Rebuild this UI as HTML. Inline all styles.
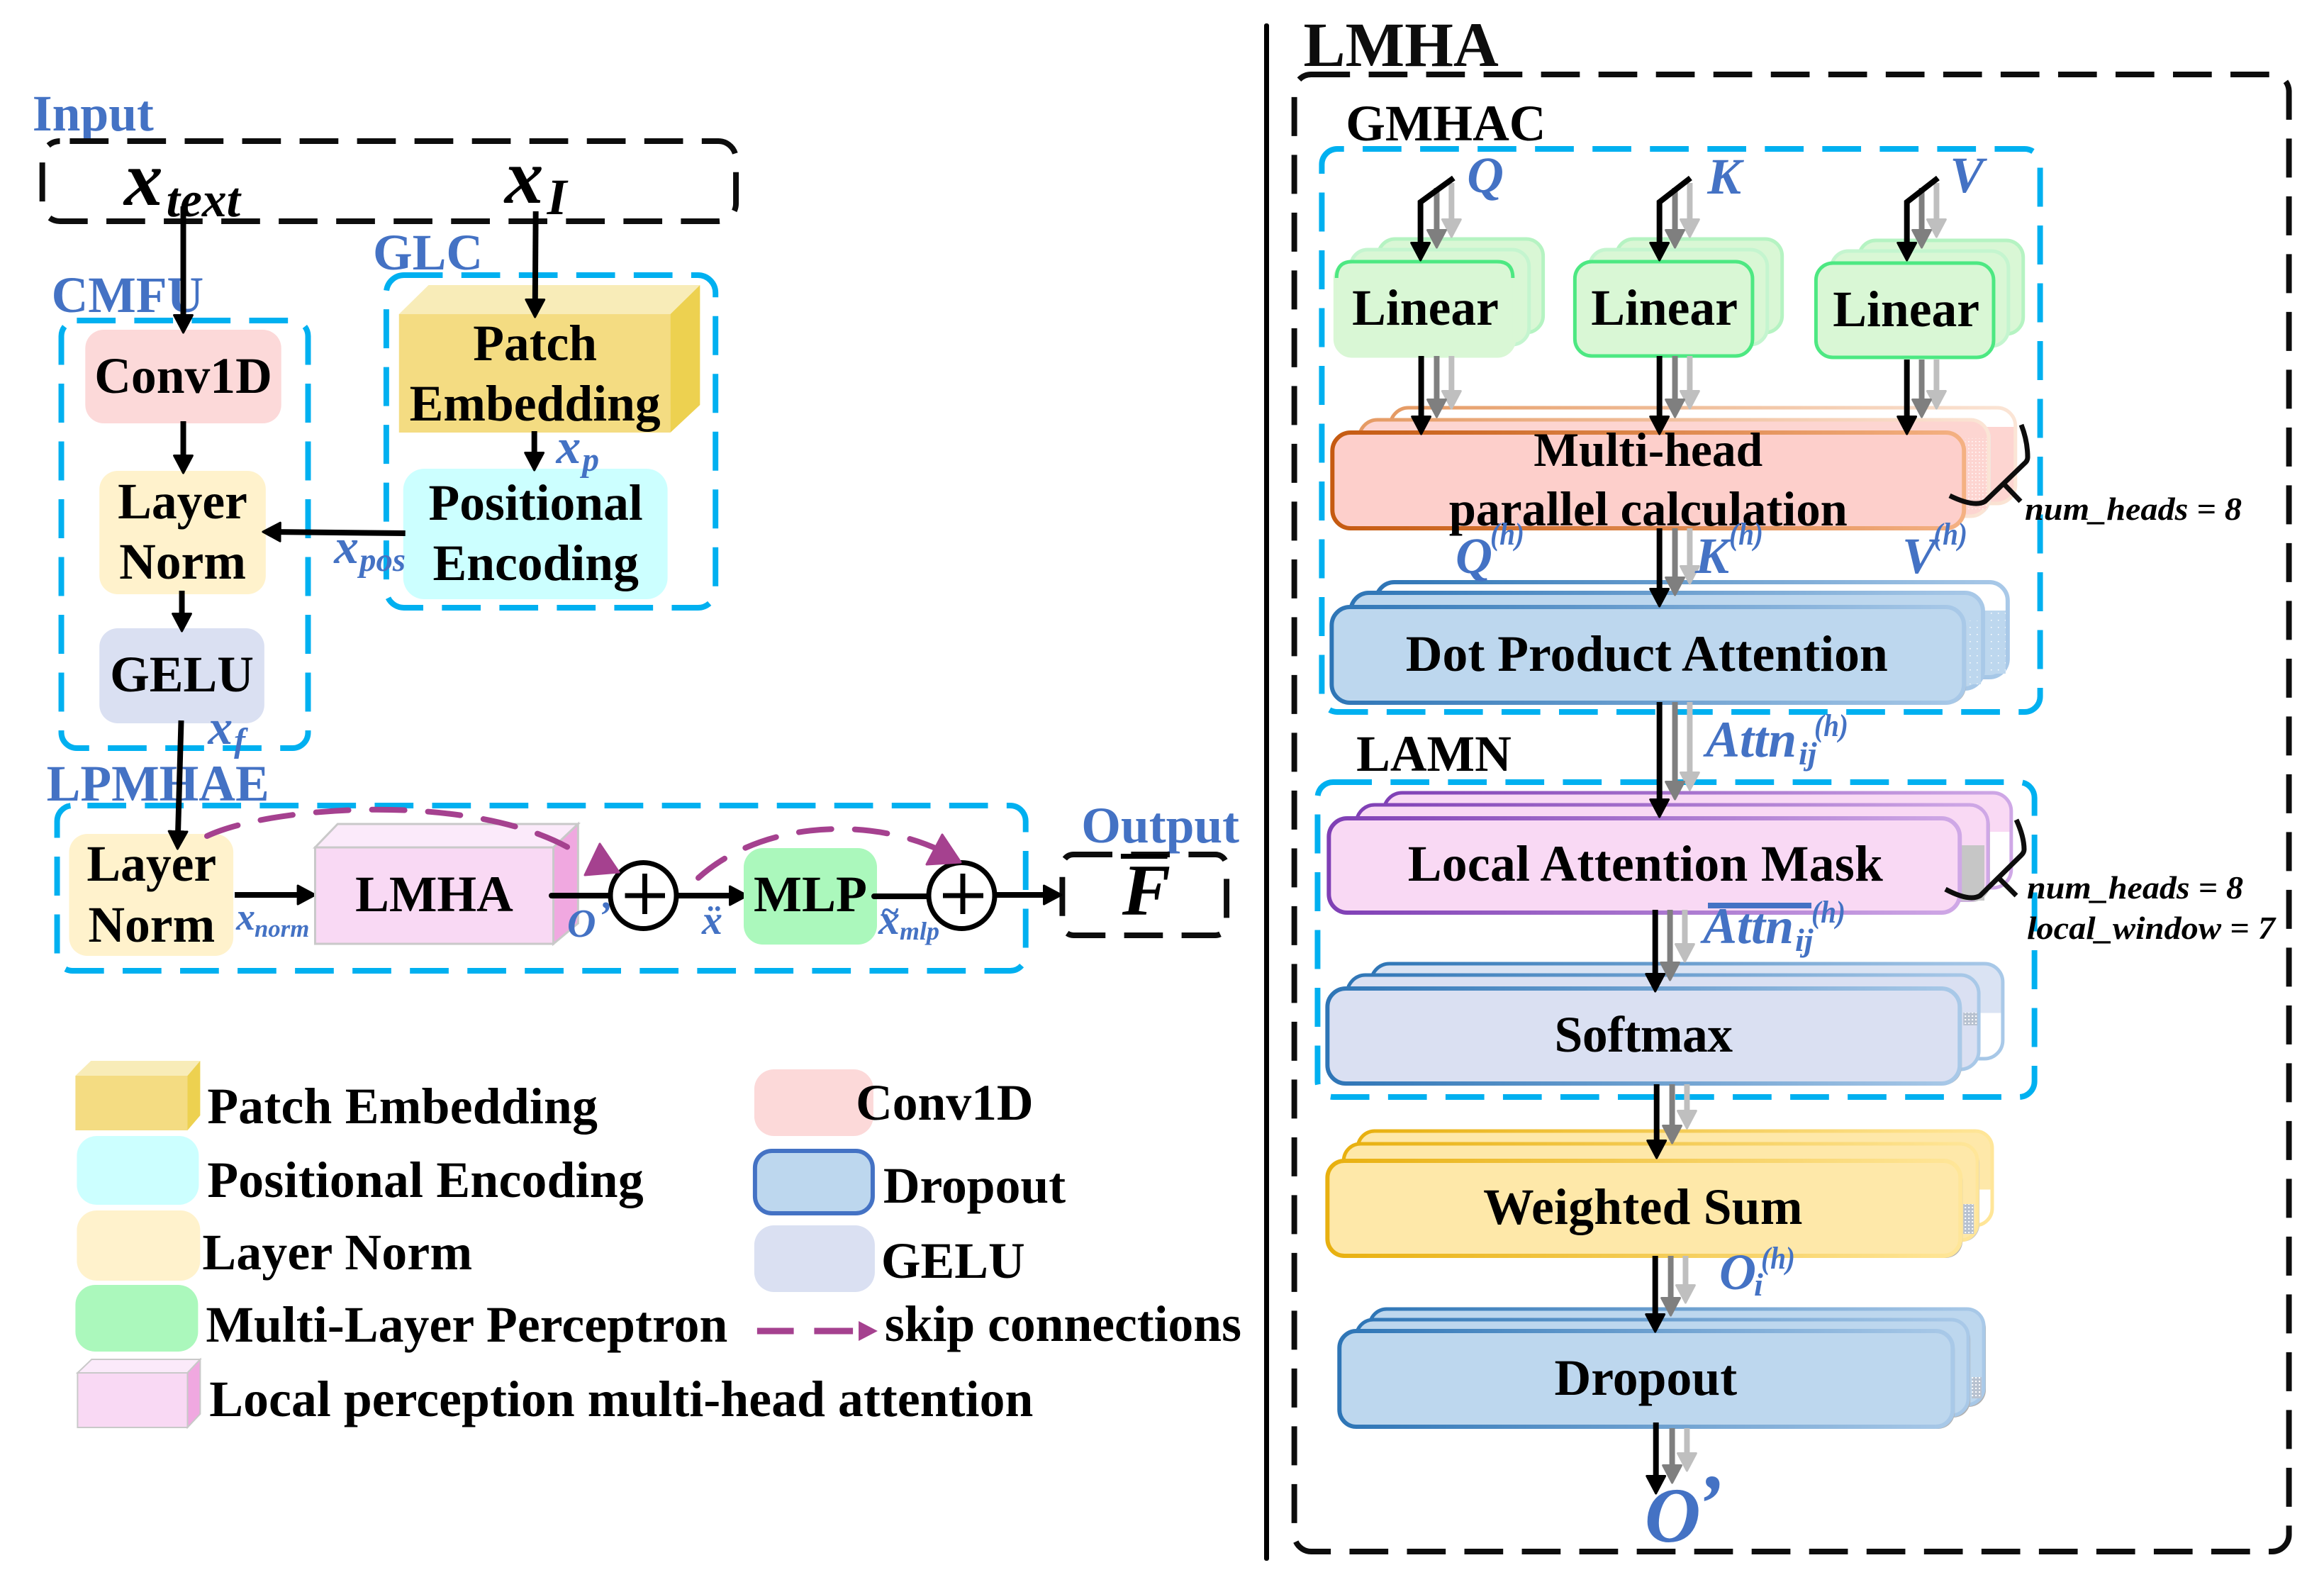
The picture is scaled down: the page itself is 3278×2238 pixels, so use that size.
<!DOCTYPE html>
<html><head><meta charset="utf-8"><style>
html,body{margin:0;padding:0;background:#fff}
svg{display:block}
text{font-family:"Liberation Serif",serif;font-weight:bold;fill:#000;font-size:72px}
.b{fill:#4472c4}
.i{font-style:italic}
.box{fill:none;stroke:#00b0f0;stroke-width:8;stroke-dasharray:55 26.5}
.blk{fill:none;stroke:#0d0d0d;stroke-width:8;stroke-dasharray:55 26.5}
.a{stroke:#000;stroke-width:8;fill:none;marker-end:url(#mk)}
.g{stroke:#7f7f7f;stroke-width:8;fill:none;marker-end:url(#mg)}
.l{stroke:#bfbfbf;stroke-width:8;fill:none;marker-end:url(#ml)}
.ln{stroke:#000;stroke-width:8;fill:none;stroke-linecap:round}
.sk{stroke:#a5418f;stroke-width:8;fill:none;stroke-dasharray:46 33;stroke-linecap:round}
.br{stroke:#0d0d0d;stroke-width:7;fill:none;stroke-linejoin:round}
.h{font-size:44px}
.s{fill:#b0b0b0}
.w1{letter-spacing:.27px}
.w2{letter-spacing:.12px}
</style></head><body>
<svg xmlns="http://www.w3.org/2000/svg" width="3278" height="2238" viewBox="0 0 3278 2238">
<defs>
<marker id="mk" markerUnits="userSpaceOnUse" markerWidth="32" markerHeight="32" refX="20" refY="15" orient="auto"><path d="M1.5 2L26 15L1.5 28Z" fill="#000" stroke="#000" stroke-width="3" stroke-linejoin="round"/></marker>
<marker id="mg" markerUnits="userSpaceOnUse" markerWidth="32" markerHeight="32" refX="20" refY="15" orient="auto"><path d="M1.5 2L26 15L1.5 28Z" fill="#7f7f7f" stroke="#7f7f7f" stroke-width="3" stroke-linejoin="round"/></marker>
<marker id="ml" markerUnits="userSpaceOnUse" markerWidth="32" markerHeight="32" refX="20" refY="15" orient="auto"><path d="M1.5 2L26 15L1.5 28Z" fill="#bfbfbf" stroke="#bfbfbf" stroke-width="3" stroke-linejoin="round"/></marker>
<linearGradient id="so"><stop offset="0" stop-color="#c55a11"/><stop offset="1" stop-color="#f4b183"/></linearGradient>
<linearGradient id="so2"><stop offset="0" stop-color="#e59a63"/><stop offset="1" stop-color="#fbe5d6"/></linearGradient>
<linearGradient id="sb"><stop offset="0" stop-color="#2e75b6"/><stop offset="1" stop-color="#a9c9e8"/></linearGradient>
<linearGradient id="sp"><stop offset="0" stop-color="#7f3fb5"/><stop offset="1" stop-color="#cfa8e6"/></linearGradient>
<linearGradient id="sy"><stop offset="0" stop-color="#e8b00f"/><stop offset="1" stop-color="#ffe699"/></linearGradient>
<linearGradient id="fmb" x2="0" y2="1"><stop offset=".2" stop-color="#fff"/><stop offset=".2" stop-color="#fdd5d1"/></linearGradient>
<linearGradient id="fdb" x2="0" y2="1"><stop offset=".3" stop-color="#fff"/><stop offset=".3" stop-color="#bdd7ee"/></linearGradient>
<linearGradient id="fpb" x2="0" y2="1"><stop offset=".41" stop-color="#f9d9f4"/><stop offset=".41" stop-color="#fff"/></linearGradient>
<linearGradient id="fsb" x2="0" y2="1"><stop offset=".52" stop-color="#dae3f3"/><stop offset=".52" stop-color="#fff"/></linearGradient>
<linearGradient id="fyb" x2="0" y2="1"><stop offset=".62" stop-color="#fee8a9"/><stop offset=".62" stop-color="#fff"/></linearGradient>
<pattern id="dots" width="10" height="10" patternUnits="userSpaceOnUse"><rect width="10" height="10" fill="#bdd7ee"/><rect x="4" y="4" width="1.5" height="1.5" fill="#fff"/></pattern>
<pattern id="dotp" width="5" height="5" patternUnits="userSpaceOnUse"><rect width="5" height="5" fill="#fdd5d1"/><rect x="2" y="2" width="1.5" height="1.5" fill="#fff"/></pattern>
<pattern id="dotg" width="5" height="5" patternUnits="userSpaceOnUse"><rect width="5" height="5" fill="#b8c2d0"/><rect x="2" y="2" width="2" height="2" fill="#fff"/></pattern>
</defs>

<!-- Divider -->
<rect x="1783" y="33" width="7" height="2168" rx="3" fill="#000"/>

<!-- LEFT -->
<g transform="scale(.9943 1)">
<text class="b" x="46" y="184">Input</text>
<rect class="blk" x="60" y="199" width="984" height="113" rx="25" stroke-dashoffset="-14"/>
<text class="b" x="73" y="440">CMFU</text>
<rect class="box" x="87" y="452" width="350" height="603" rx="22"/>
<text class="b" x="529" y="380">GLC</text>
<rect class="box" x="548" y="388" width="467" height="469" rx="25"/>
<text class="b" x="66" y="1129">LPMHAE</text>
<rect class="box" x="81" y="1136" width="1374" height="233" rx="22" stroke-dashoffset="-21"/>

<rect x="121" y="465" width="278" height="132" rx="26" fill="#fcd9d9"/>
<text x="260" y="554" text-anchor="middle">Conv1D</text>
<rect x="141" y="664" width="236" height="174" rx="26" fill="#fff2cc"/>
<text x="259" y="731" text-anchor="middle">Layer</text>
<text x="259" y="816" text-anchor="middle">Norm</text>
<rect x="141" y="886" width="234" height="134" rx="26" fill="#dae0f2"/>
<text x="258" y="975" text-anchor="middle">GELU</text>

<polygon points="566,443 608,402 993,402 951,443" fill="#f8ecb8"/>
<polygon points="951,443 993,402 993,571 951,610" fill="#edd150"/>
<rect x="566" y="443" width="385" height="167" fill="#f4dc82"/>
<text x="759" y="508" text-anchor="middle">Patch</text>
<text x="759" y="593" text-anchor="middle">Embedding</text>
<rect x="572" y="661" width="375" height="184" rx="30" fill="#ccffff"/>
<text x="760" y="733" text-anchor="middle">Positional</text>
<text x="760" y="818" text-anchor="middle">Encoding</text>

<text class="i" x="176" y="289" style="font-size:110px">x</text>
<text class="i" x="236" y="305" style="font-size:70px">text</text>
<text class="i" x="716" y="286" style="font-size:110px">x</text>
<text class="i" x="776" y="302" style="font-size:72px">I</text>

<path class="a" d="M260 291V463"/>
<path class="a" d="M760 298L759 441"/>
<path class="a" d="M260 594V661"/>
<path class="a" d="M258 833V884"/>
<path class="a" d="M758 608V657"/>
<path class="a" d="M575 752L379 750"/>

<text class="b i" x="789" y="653" style="font-size:70px">x</text>
<text class="b i" x="826" y="664" style="font-size:48px">p</text>
<text class="b i" x="474" y="794" style="font-size:70px">x</text>
<text class="b i" x="510" y="805" style="font-size:47px">pos</text>
<text class="b i" x="295" y="1049" style="font-size:70px">x</text>
<text class="b i" x="332" y="1060" style="font-size:48px">f</text>

<rect x="98" y="1176" width="233" height="172" rx="26" fill="#fff2cc"/>
<text x="215" y="1242" text-anchor="middle">Layer</text>
<text x="215" y="1328" text-anchor="middle">Norm</text>
<path class="a" d="M257 1016L252 1191"/>
<path class="a" d="M333 1262H441"/>
<text class="b i" x="335" y="1311" style="font-size:54px">x</text>
<text class="b i" x="361" y="1321" style="font-size:35px">norm</text>

<polygon points="447,1195 479,1162 820,1162 785,1195" fill="#fbeafa" stroke="#c9c9c9" stroke-width="3"/>
<polygon points="785,1195 820,1162 820,1302 785,1331" fill="#f0a8e0" stroke="#c9c9c9" stroke-width="3"/>
<rect x="447" y="1195" width="338" height="136" fill="#f9d9f4" stroke="#c9c9c9" stroke-width="3"/>
<text x="616" y="1285" text-anchor="middle">LMHA</text>

<text class="b" x="1534" y="1188">Output</text>
<rect class="blk" x="1507" y="1205" width="233" height="114" rx="16"/>
<text class="i" x="1592" y="1290" style="font-size:103px">F</text>
<rect x="1590" y="1204" width="66" height="7" fill="#000"/>

<!-- Legend -->
<polygon points="107,1517 129,1496 284,1496 266,1517" fill="#f8ecb8"/>
<polygon points="266,1517 284,1496 284,1573 266,1594" fill="#edd150"/>
<rect x="107" y="1517" width="159" height="77" fill="#f4dc82"/>
<text class="w1" x="294" y="1584">Patch Embedding</text>
<rect x="109" y="1602" width="173" height="97" rx="28" fill="#ccffff"/>
<text class="w1" x="294" y="1688">Positional Encoding</text>
<rect x="109" y="1707" width="175" height="99" rx="28" fill="#fff2cc"/>
<text class="w1" x="287" y="1790">Layer Norm</text>
<rect x="107" y="1812" width="174" height="94" rx="28" fill="#abf8bc"/>
<text class="w2" x="292" y="1892">Multi-Layer Perceptron</text>
<polygon points="110,1936 130,1917 284,1917 266,1936" fill="#fbeafa" stroke="#c9c9c9" stroke-width="2"/>
<polygon points="266,1936 284,1917 284,1994 266,2013" fill="#f0a8e0" stroke="#c9c9c9" stroke-width="2"/>
<rect x="110" y="1936" width="156" height="77" fill="#f9d9f4" stroke="#c9c9c9" stroke-width="2"/>
<text class="w2" x="297" y="1997">Local perception multi-head attention</text>
<rect x="1070" y="1508" width="169" height="94" rx="28" fill="#fcd9d9"/>
<text x="1214" y="1579">Conv1D</text>
<rect x="1071" y="1623" width="167" height="88" rx="24" fill="#bdd7ee" stroke="#4472c4" stroke-width="6"/>
<text x="1253" y="1696">Dropout</text>
<rect x="1070" y="1728" width="171" height="94" rx="28" fill="#dae0f2"/>
<text x="1250" y="1802">GELU</text>
<path d="M1074 1877H1126M1155 1877H1210" stroke="#a5418f" stroke-width="9"/>
<polygon points="1218,1863 1245,1877 1218,1891" fill="#a5418f"/>
<text x="1255" y="1891">skip connections</text>
</g>

<!-- row items in true coordinates -->
<path class="ln" d="M778 1263H860"/>
<text class="b i" x="800" y="1321" style="font-size:56px">O</text>
<text class="b i" x="843" y="1310" style="font-size:56px">’</text>
<circle cx="907.5" cy="1263" r="46.5" fill="#fff" stroke="#000" stroke-width="7"/>
<path d="M881.5 1263H938M909.5 1232V1289" stroke="#000" stroke-width="7"/>
<path class="a" d="M956 1263H1048"/>
<text class="b i" x="990" y="1317" style="font-size:58px">ẍ</text>
<rect x="1049" y="1196" width="188" height="136" rx="27" fill="#abf8bc"/>
<text x="1143" y="1285" text-anchor="middle">MLP</text>
<path class="ln" d="M1233 1264H1310"/>
<text class="b i" x="1239" y="1317" style="font-size:60px">x</text>
<text class="b i" x="1242" y="1300" style="font-size:46px">~</text>
<text class="b i" x="1269" y="1325" style="font-size:36px">mlp</text>
<circle cx="1356.5" cy="1263" r="46.5" fill="#fff" stroke="#000" stroke-width="7"/>
<path d="M1330 1263H1387M1358 1232V1289" stroke="#000" stroke-width="7"/>
<path class="a" d="M1406 1262H1491"/>

<path class="sk" d="M292 1179C385 1135 680 1115 818 1205"/>
<polygon points="846,1190 825,1234 873,1230" fill="#a5418f" stroke="#a5418f" stroke-width="3" stroke-linejoin="round"/>
<path class="sk" d="M985 1238C1075 1157 1230 1150 1334 1203"/>
<polygon points="1329,1177 1307,1219 1355,1216" fill="#a5418f" stroke="#a5418f" stroke-width="3" stroke-linejoin="round"/>

<!-- RIGHT -->
<g transform="translate(1760 0) scale(.9943 1) translate(-1760 0)">
<text x="1839" y="93" style="font-size:89px;fill:#0d0d0d">LMHA</text>
<rect class="blk" x="1826" y="105" width="1411" height="2083" rx="24"/>
<text x="1899" y="198">GMHAC</text>
<rect class="box" x="1865" y="210" width="1019" height="794" rx="22" stroke-dashoffset="-36"/>
<text x="1914" y="1087">LAMN</text>
<rect class="box" x="1859" y="1103" width="1017" height="444" rx="22"/>

<!-- Linear -->
<g fill="#d9f7d5" stroke-width="5">
<rect x="1945" y="337" width="234" height="132" rx="24" stroke="#b5f3c2"/>
<rect x="1906" y="352" width="253" height="134" rx="24" stroke="#c4f5cf"/>
<rect x="1884" y="369" width="254" height="133" rx="24" stroke="#d9f7d5"/>
<path d="M1886 392Q1886 369 1908 369H2114Q2136 369 2136 392" fill="none" stroke="#4de882"/>
<rect x="2283" y="337" width="235" height="132" rx="24" stroke="#b5f3c2"/>
<rect x="2245" y="352" width="252" height="134" rx="24" stroke="#c4f5cf"/>
<rect x="2224" y="369" width="252" height="133" rx="24" stroke="#4de882"/>
<rect x="2627" y="339" width="233" height="132" rx="24" stroke="#b5f3c2"/>
<rect x="2588" y="354" width="251" height="134" rx="24" stroke="#c4f5cf"/>
<rect x="2566" y="371" width="252" height="133" rx="24" stroke="#4de882"/>
</g>
<text x="1908" y="458">Linear</text>
<text x="2247" y="458">Linear</text>
<text x="2590" y="460">Linear</text>

<path class="l" d="M2049 258V328"/><path class="g" d="M2028 265V343"/><path class="a" d="M2052 251L2005 285V361"/>
<path class="l" d="M2387 258V328"/><path class="g" d="M2366 265V343"/><path class="a" d="M2388 251L2344 285V361"/>
<path class="l" d="M2737 258V328"/><path class="g" d="M2716 265V343"/><path class="a" d="M2739 251L2695 285V361"/>
<text class="b i" x="2071" y="271">Q</text>
<text class="b i" x="2412" y="273">K</text>
<text class="b i" x="2756" y="271">V</text>

<!-- Multi-head -->
<rect x="1962" y="575" width="887" height="135" rx="26" fill="url(#fmb)" stroke="url(#so2)" stroke-width="5"/>
<rect x="1918" y="592" width="896" height="137" rx="26" fill="#e8e8e8"/>
<rect x="1918" y="592" width="893" height="136" rx="26" fill="#fdd5d1" stroke="url(#so2)" stroke-width="5"/>
<rect x="2778" y="618" width="30" height="100" fill="url(#dotp)"/>
<rect x="1880" y="610" width="896" height="135" rx="26" fill="#fdcfcb" stroke="url(#so)" stroke-width="6"/>
<path class="l" d="M2049 502V570"/><path class="g" d="M2028 502V582"/><path class="a" d="M2006 502V606"/>
<path class="l" d="M2387 502V570"/><path class="g" d="M2366 502V582"/><path class="a" d="M2344 502V606"/>
<path class="l" d="M2737 507V570"/><path class="g" d="M2716 507V582"/><path class="a" d="M2695 507V606"/>
<text x="2328" y="657" text-anchor="middle" style="font-size:68px">Multi-head</text>
<text x="2328" y="741" text-anchor="middle" style="font-size:69px">parallel calculation</text>

<!-- Dot -->
<rect x="1942" y="821" width="896" height="134" rx="26" fill="url(#fdb)" stroke="url(#sb)" stroke-width="6"/>
<rect x="2805" y="862" width="30" height="88" fill="url(#dots)"/>
<rect x="1906" y="836" width="897" height="135" rx="26" fill="#bdd7ee" stroke="url(#sb)" stroke-width="6"/>
<rect x="2780" y="875" width="20" height="90" fill="url(#dots)"/>
<rect x="1882" y="859" width="897" height="134" rx="26" class="s"/>
<rect x="1879" y="856" width="897" height="135" rx="26" fill="#bdd7ee" stroke="url(#sb)" stroke-width="6"/>
<path class="l" d="M2387 745V817"/><path class="g" d="M2366 745V833"/><path class="a" d="M2344 745V849"/>
<text x="1984" y="946" textLength="684" lengthAdjust="spacing">Dot Product Attention</text>

<!-- Mask -->
<rect x="1953" y="1118" width="890" height="134" rx="26" fill="url(#fpb)" stroke="url(#sp)" stroke-width="5"/>
<rect x="1917" y="1138" width="896" height="134" rx="26" fill="#c6c6c6"/>
<rect x="1914" y="1135" width="896" height="134" rx="26" fill="#f9d9f4" stroke="url(#sp)" stroke-width="5"/>
<rect x="2772" y="1192" width="33" height="78" fill="#c6c6c6"/>
<rect x="1875" y="1154" width="895" height="133" rx="26" fill="#f9d9f4" stroke="url(#sp)" stroke-width="6"/>
<path class="l" d="M2387 990V1108"/><path class="g" d="M2366 990V1121"/><path class="a" d="M2344 990V1146"/>
<text x="1987" y="1242" textLength="674" lengthAdjust="spacing">Local Attention Mask</text>

<!-- Softmax -->
<rect x="1935" y="1359" width="896" height="134" rx="26" fill="url(#fsb)" stroke="url(#sb)" stroke-width="5"/>
<rect x="1901" y="1375" width="896" height="133" rx="26" fill="#dae0f2" stroke="url(#sb)" stroke-width="5"/>
<rect x="2775" y="1428" width="20" height="18" fill="url(#dotg)"/>
<rect x="1876" y="1397" width="897" height="133" rx="26" class="s"/>
<rect x="1873" y="1394" width="897" height="134" rx="26" fill="#dae0f2" stroke="url(#sb)" stroke-width="6"/>
<path class="l" d="M2380 1283V1350"/><path class="g" d="M2359 1283V1376"/><path class="a" d="M2338 1283V1392"/>
<text x="2195" y="1483" textLength="253" lengthAdjust="spacing">Softmax</text>

<!-- Weighted -->
<rect x="1916" y="1595" width="900" height="133" rx="24" fill="url(#fyb)" stroke="url(#sy)" stroke-width="5"/>
<rect x="1899" y="1616" width="899" height="135" rx="24" fill="#c8c8c8"/>
<rect x="1896" y="1613" width="899" height="136" rx="24" fill="#fee8a9" stroke="url(#sy)" stroke-width="5"/>
<rect x="2775" y="1698" width="15" height="42" fill="url(#dotg)"/>
<rect x="1876" y="1640" width="898" height="134" rx="24" class="s"/>
<rect x="1873" y="1637" width="898" height="134" rx="24" fill="#fee8a9" stroke="url(#sy)" stroke-width="6"/>
<path class="l" d="M2383 1529V1585"/><path class="g" d="M2362 1529V1606"/><path class="a" d="M2340 1529V1627"/>
<text x="2094" y="1726" textLength="453" lengthAdjust="spacing">Weighted Sum</text>

<!-- Dropout -->
<rect x="1936" y="1849" width="871" height="135" rx="24" class="s"/>
<rect x="1933" y="1846" width="871" height="135" rx="24" fill="#bdd7ee" stroke="url(#sb)" stroke-width="5"/>
<rect x="2787" y="1942" width="14" height="30" fill="url(#dotg)"/>
<rect x="1917" y="1864" width="868" height="135" rx="24" class="s"/>
<rect x="1914" y="1861" width="868" height="135" rx="24" fill="#bdd7ee" stroke="url(#sb)" stroke-width="5"/>
<rect x="1893" y="1880" width="870" height="135" rx="24" class="s"/>
<rect x="1890" y="1877" width="870" height="135" rx="24" fill="#bdd7ee" stroke="url(#sb)" stroke-width="6"/>
<path class="l" d="M2381 1771V1831"/><path class="g" d="M2360 1771V1849"/><path class="a" d="M2338 1771V1872"/>
<text x="2195" y="1967" textLength="259" lengthAdjust="spacing">Dropout</text>

<path class="l" d="M2383 2014V2068"/><path class="g" d="M2362 2014V2085"/><path class="a" d="M2339 2006V2100"/>
<text class="b i" x="2323" y="2174" style="font-size:110px">O</text>
<text class="b i" x="2395" y="2159" style="font-size:115px">’</text>
</g>

<!-- right labels in true coordinates -->
<text class="b i" x="2053" y="808">Q</text><text class="b i h" x="2102" y="768" textLength="48" lengthAdjust="spacingAndGlyphs">(h)</text>
<text class="b i" x="2391" y="808">K</text><text class="b i h" x="2439" y="768" textLength="48" lengthAdjust="spacingAndGlyphs">(h)</text>
<text class="b i" x="2683" y="808">V</text><text class="b i h" x="2727" y="768" textLength="48" lengthAdjust="spacingAndGlyphs">(h)</text>

<text class="b i" x="2406" y="1067">Attn</text>
<text class="b i" x="2537" y="1078" style="font-size:46px">ij</text>
<text class="b i h" x="2559" y="1038" textLength="48" lengthAdjust="spacingAndGlyphs">(h)</text>

<rect x="2409" y="1273" width="146" height="8" fill="#4472c4"/>
<text class="b i" x="2402" y="1330">Attn</text>
<text class="b i" x="2532" y="1341" style="font-size:46px">ij</text>
<text class="b i h" x="2555" y="1301" textLength="48" lengthAdjust="spacingAndGlyphs">(h)</text>

<text class="b i" x="2425" y="1818">O</text>
<text class="b i" x="2474" y="1827" style="font-size:46px">i</text>
<text class="b i h" x="2484" y="1789" textLength="48" lengthAdjust="spacingAndGlyphs">(h)</text>

<path class="br" d="M2851 599Q2860 622 2860 645Q2860 650 2855 654L2800 707Q2785 716 2750 699M2827 683L2850 707"/>
<text class="i" x="2856" y="733" style="font-size:46px" textLength="306" lengthAdjust="spacingAndGlyphs">num_heads = 8</text>
<path class="br" d="M2844 1156Q2855 1180 2855 1198Q2855 1202 2851 1206L2793 1263Q2778 1272 2744 1254M2821 1240L2844 1263"/>
<text class="i" x="2859" y="1267" style="font-size:46px" textLength="305" lengthAdjust="spacingAndGlyphs">num_heads = 8</text>
<text class="i" x="2859" y="1324" style="font-size:46px" textLength="350" lengthAdjust="spacingAndGlyphs">local_window = 7</text>
</svg>
</body></html>
